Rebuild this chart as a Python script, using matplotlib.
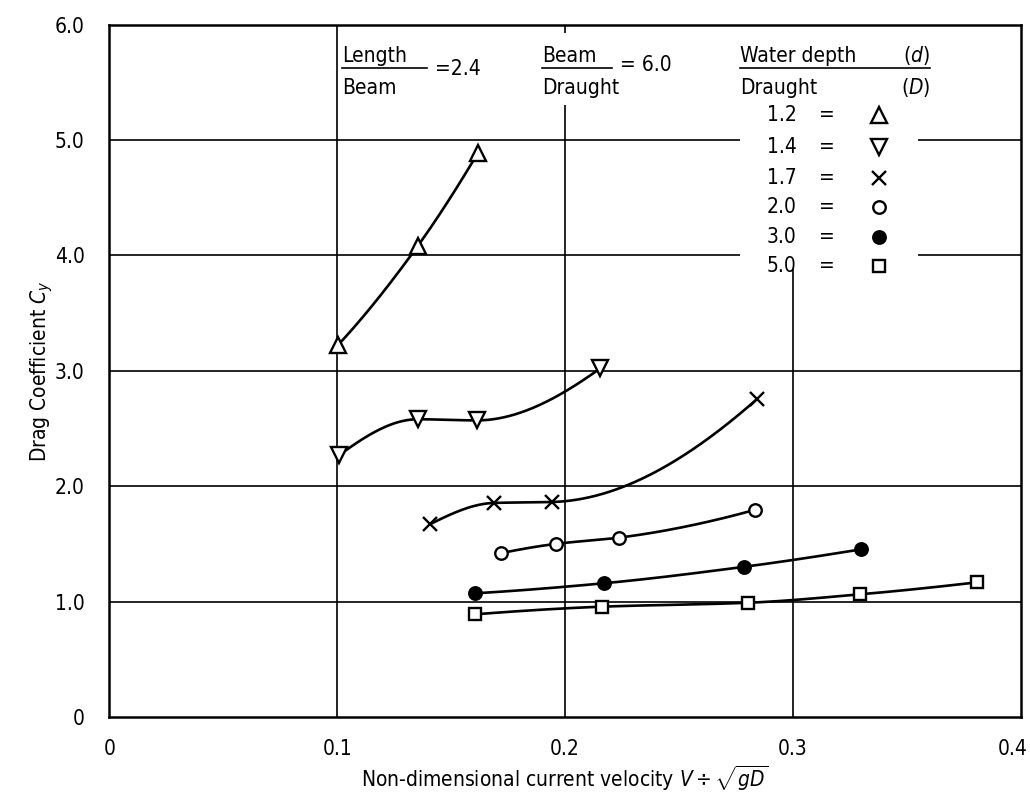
import numpy as np
import matplotlib
matplotlib.use("Agg")
import matplotlib.pyplot as plt
from matplotlib.patches import Rectangle
from matplotlib import font_manager
import matplotlib.transforms as mtransforms

_names = {f.name for f in font_manager.fontManager.ttflist}
if 'Liberation Sans Narrow' in _names:
    plt.rcParams['font.family'] = ['Liberation Sans Narrow', 'DejaVu Sans']
else:
    plt.rcParams['font.family'] = ['DejaVu Sans']
    plt.rcParams['font.stretch'] = 'condensed'
plt.rcParams['mathtext.fontset'] = 'custom'
plt.rcParams['mathtext.rm'] = plt.rcParams['font.family'][0]
plt.rcParams['mathtext.it'] = plt.rcParams['font.family'][0] + ':italic'

# ---------------- data ----------------
depth_ratios = ["1.2", "1.4", "1.7", "2.0", "3.0", "5.0"]

x_12 = [0.1002, 0.1353, 0.1617]
y_12 = [3.22, 4.08, 4.885]

x_14 = [0.1009, 0.1353, 0.1612, 0.2154]
y_14 = [2.27, 2.58, 2.57, 3.02]

x_17 = [0.1407, 0.1688, 0.1943, 0.2842]
y_17 = [1.67, 1.855, 1.863, 2.753]

x_20 = [0.1719, 0.1959, 0.2237, 0.2832]
y_20 = [1.42, 1.50, 1.554, 1.794]

x_30 = [0.1607, 0.2171, 0.2788, 0.3300]
y_30 = [1.072, 1.159, 1.302, 1.453]

x_50 = [0.1603, 0.2161, 0.2802, 0.3295, 0.3809]
y_50 = [0.89, 0.956, 0.990, 1.063, 1.167]

x_ticks = [0, 0.1, 0.2, 0.3, 0.4]
x_ticklabels = ["0", "0.1", "0.2", "0.3", "0.4"]
y_ticks = [0, 1, 2, 3, 4, 5, 6]
y_ticklabels = ["0", "1.0", "2.0", "3.0", "4.0", "5.0", "6.0"]

series = [(x_12, y_12), (x_14, y_14), (x_17, y_17),
          (x_20, y_20), (x_30, y_30), (x_50, y_50)]

# marker styles (marker, filled, size)
styles = [('^', False, 11), ('v', False, 11), ('x', False, 10),
          ('o', False, 9), ('o', True, 9), ('s', False, 9)]


def pchip(x, y, n=200):
    x = np.asarray(x, float)
    y = np.asarray(y, float)
    h = np.diff(x)
    d = np.diff(y) / h
    m = np.zeros(len(x))
    for k in range(1, len(x) - 1):
        if d[k - 1] * d[k] <= 0:
            m[k] = 0.0
        else:
            w1 = 2 * h[k] + h[k - 1]
            w2 = h[k] + 2 * h[k - 1]
            m[k] = (w1 + w2) / (w1 / d[k - 1] + w2 / d[k])

    def end(h0, h1, d0, d1):
        s = ((2 * h0 + h1) * d0 - h0 * d1) / (h0 + h1)
        if np.sign(s) != np.sign(d0):
            s = 0.0
        elif np.sign(d0) != np.sign(d1) and abs(s) > abs(3 * d0):
            s = 3 * d0
        return s

    if len(x) > 2:
        m[0] = end(h[0], h[1], d[0], d[1])
        m[-1] = end(h[-1], h[-2], d[-1], d[-2])
    else:
        m[:] = d[0]
    xs = np.linspace(x[0], x[-1], n)
    idx = np.clip(np.searchsorted(x, xs) - 1, 0, len(x) - 2)
    t = (xs - x[idx]) / h[idx]
    h00 = 2 * t**3 - 3 * t**2 + 1
    h10 = t**3 - 2 * t**2 + t
    h01 = -2 * t**3 + 3 * t**2
    h11 = t**3 - t**2
    ys = h00 * y[idx] + h10 * h[idx] * m[idx] + h01 * y[idx + 1] + h11 * h[idx] * m[idx + 1]
    return xs, ys


fig = plt.figure(figsize=(10.30, 7.93), dpi=100)
ax = fig.add_axes([0.1063, 0.0958, 0.8845, 0.8733])
ax.set_xlim(0, 0.4)
ax.set_ylim(0, 6.0)

# grid lines
for xv in x_ticks[1:-1]:
    ax.axvline(xv, color='black', lw=1.2, zorder=1)
for yv in y_ticks[1:-1]:
    ax.axhline(yv, color='black', lw=1.2, zorder=1)

# white masks behind annotation text
ax.add_patch(Rectangle((0.2768, 3.88), 0.3550 - 0.2768, 6.0 - 3.88,
                       facecolor='white', edgecolor='none', zorder=2))
ax.add_patch(Rectangle((0.1880, 5.30), 0.2450 - 0.1880, 5.93 - 5.30,
                       facecolor='white', edgecolor='none', zorder=2))

# curves and markers
for (xs, ys), (mk, filled, ms) in zip(series, styles):
    cx, cy = pchip(xs, ys)
    ax.plot(cx, cy, color='black', lw=1.9, zorder=3, solid_capstyle='round')
    if mk == 'x':
        ax.plot(xs, ys, linestyle='none', marker='x', ms=ms, mew=1.7,
                color='black', zorder=4)
    else:
        ax.plot(xs, ys, linestyle='none', marker=mk, ms=ms, mew=1.7,
                mec='black', mfc='black' if filled else 'white', zorder=4)

for s in ax.spines.values():
    s.set_linewidth(1.8)
    s.set_zorder(5)

ax.set_xticks(x_ticks)
ax.set_xticklabels(x_ticklabels)
ax.set_yticks(y_ticks)
ax.set_yticklabels(y_ticklabels)
ax.tick_params(axis='both', length=0, labelsize=15)
ax.tick_params(axis='x', pad=16)
ax.tick_params(axis='y', pad=18)
# keep the last x tick label inside the figure
last = ax.get_xticklabels()[-1]
last.set_transform(last.get_transform() +
                   mtransforms.ScaledTranslation(-6 / 72, 0, fig.dpi_scale_trans))

ax.set_xlabel(r"Non-dimensional current velocity $V \div \sqrt{gD}$",
              fontsize=15, labelpad=3)
ax.set_ylabel(r"Drag Coefficient $C_{y}$", fontsize=15, labelpad=0)

fs = 15
# Length / Beam
ax.text(0.1021, 5.676, "Length", fontsize=fs, va='baseline', ha='left', zorder=6)
ax.text(0.1021, 5.40, "Beam", fontsize=fs, va='baseline', ha='left', zorder=6)
ax.plot([0.1021, 0.1394], [5.627, 5.627], color='black', lw=1.2, zorder=6)
ax.text(0.1429, 5.615, "=2.4", fontsize=fs, va='center', ha='left', zorder=6)

# Beam / Draught
ax.text(0.1899, 5.676, "Beam", fontsize=fs, va='baseline', ha='left', zorder=6)
ax.text(0.1899, 5.40, "Draught", fontsize=fs, va='baseline', ha='left', zorder=6)
ax.plot([0.1899, 0.2206], [5.627, 5.627], color='black', lw=1.2, zorder=6)
ax.text(0.2242, 5.645, "= 6.0", fontsize=fs, va='center', ha='left', zorder=6)

# Water depth / Draught
ax.text(0.2768, 5.676, "Water depth", fontsize=fs, va='baseline', ha='left', zorder=6)
ax.text(0.3603, 5.676, r"$(\mathit{d})$", fontsize=fs, va='baseline', ha='right', zorder=6)
ax.text(0.2768, 5.40, "Draught", fontsize=fs, va='baseline', ha='left', zorder=6)
ax.text(0.3603, 5.40, r"$(\mathit{D})$", fontsize=fs, va='baseline', ha='right', zorder=6)
ax.plot([0.2768, 0.3603], [5.624, 5.624], color='black', lw=1.2, zorder=6)

# legend rows
row_y = [5.217, 4.939, 4.671, 4.419, 4.159, 3.908]
for lab, yy, (mk, filled, ms) in zip(depth_ratios, row_y, styles):
    ax.text(0.2887, yy, lab, fontsize=fs, va='center', ha='left', zorder=6)
    ax.text(0.3150, yy, "=", fontsize=fs, va='center', ha='center', zorder=6)
    if mk == 'x':
        ax.plot([0.3378], [yy], marker='x', ms=ms, mew=1.7, color='black',
                linestyle='none', zorder=6)
    else:
        ax.plot([0.3378], [yy], marker=mk, ms=ms, mew=1.7, mec='black',
                mfc='black' if filled else 'white', linestyle='none', zorder=6)

fig.savefig("out.png", dpi=100)
